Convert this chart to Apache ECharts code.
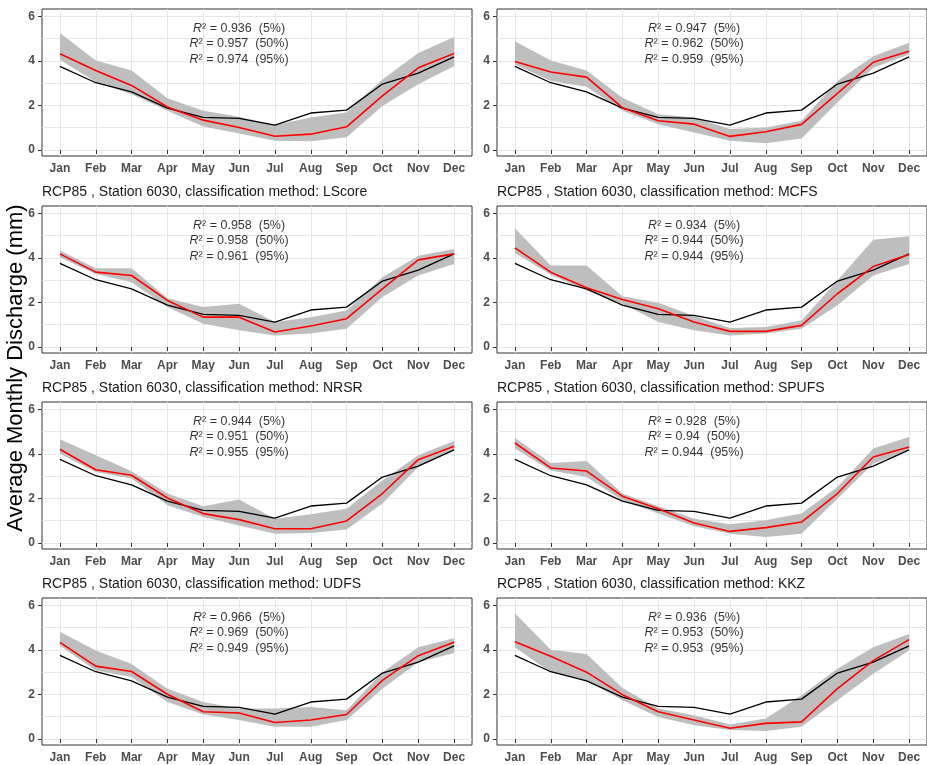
<!DOCTYPE html>
<html><head><meta charset="utf-8">
<script src="https://cdn.jsdelivr.net/npm/echarts@6/dist/echarts.min.js"></script>
<style>html,body{margin:0;padding:0;background:#fff}#c{width:927px;height:765px}</style>
</head><body><div id="c"></div>
<script>
const months = ['Jan','Feb','Mar','Apr','May','Jun','Jul','Aug','Sep','Oct','Nov','Dec'];
const observed = [3.75,3.02,2.61,1.88,1.46,1.42,1.12,1.66,1.79,2.96,3.45,4.18];
const titles = [null, null, 'LScore', 'MCFS', 'NRSR', 'SPUFS', 'UDFS', 'KKZ'];
const pctLabels = ['5%', '50%', '95%'];
const r2Pos = [5.45, 4.77, 4.08];
const yLabels = [0, 2, 4, 6];

const median1 = [4.32,3.57,2.90,1.93,1.34,1.01,0.62,0.71,1.04,2.43,3.69,4.33];
const lower1  = [4.05,3.05,2.50,1.76,1.06,0.74,0.42,0.39,0.57,1.98,2.95,3.76];
const upper1  = [5.25,4.02,3.57,2.32,1.76,1.49,1.12,1.46,1.68,3.17,4.36,5.07];
const r2_1 = ['0.936','0.957','0.974'];

const median2 = [3.97,3.50,3.27,1.90,1.31,1.16,0.61,0.82,1.15,2.54,3.94,4.43];
const lower2  = [3.84,3.10,2.84,1.76,1.16,0.79,0.42,0.30,0.52,2.13,3.69,4.29];
const upper2  = [4.88,4.02,3.57,2.35,1.61,1.46,0.94,1.01,1.31,3.10,4.21,4.81];
const r2_2 = ['0.947','0.962','0.959'];

const median3 = [4.18,3.36,3.21,2.09,1.34,1.34,0.67,0.94,1.27,2.61,3.91,4.18];
const lower3  = [4.03,3.28,2.91,1.79,1.04,0.75,0.52,0.60,0.82,2.24,3.21,3.73];
const upper3  = [4.33,3.54,3.54,2.19,1.79,1.94,1.12,1.34,1.64,3.13,4.10,4.40];
const r2_3 = ['0.958','0.958','0.961'];

const median4 = [4.45,3.36,2.66,2.13,1.72,1.12,0.70,0.70,0.97,2.39,3.61,4.15];
const lower4  = [4.22,3.24,2.54,1.94,1.12,0.75,0.52,0.60,0.82,1.87,3.21,3.73];
const upper4  = [5.33,3.66,3.66,2.28,1.99,1.39,0.85,0.90,1.19,2.99,4.82,4.97];
const r2_4 = ['0.934','0.944','0.944'];

const median5 = [4.21,3.29,3.04,2.02,1.32,1.05,0.64,0.64,0.99,2.22,3.74,4.34];
const lower5  = [4.01,3.19,2.89,1.69,1.17,0.79,0.42,0.45,0.60,1.77,3.41,4.16];
const upper5  = [4.66,3.94,3.22,2.22,1.65,1.95,1.09,1.29,1.54,2.81,3.94,4.58];
const r2_5 = ['0.944','0.951','0.955'];

const median6 = [4.49,3.37,3.23,2.10,1.54,0.90,0.52,0.69,0.94,2.22,3.86,4.31];
const lower6  = [4.24,3.26,2.96,1.92,1.32,0.75,0.42,0.27,0.42,1.99,3.56,4.16];
const upper6  = [4.72,3.59,3.68,2.22,1.65,1.09,0.84,1.02,1.32,2.51,4.24,4.76];
const r2_6 = ['0.928','0.94','0.944'];

const median7 = [4.34,3.27,3.03,2.01,1.22,1.17,0.74,0.85,1.10,2.63,3.74,4.34];
const lower7  = [4.19,3.08,2.78,1.66,1.10,0.85,0.55,0.55,0.85,2.26,3.45,3.86];
const upper7  = [4.81,3.97,3.37,2.26,1.66,1.37,1.37,1.44,1.29,3.00,4.12,4.52];
const r2_7 = ['0.966','0.969','0.949'];

const median8 = [4.37,3.71,3.00,1.99,1.22,0.85,0.48,0.70,0.77,2.26,3.52,4.46];
const lower8  = [4.12,3.00,2.63,1.74,0.99,0.62,0.40,0.36,0.55,1.74,2.93,3.97];
const upper8  = [5.65,4.01,3.82,2.29,1.37,1.07,0.65,0.92,1.96,3.15,4.12,4.71];
const r2_8 = ['0.936','0.953','0.953'];

const medians = [median1,median2,median3,median4,median5,median6,median7,median8];
const lowers = [lower1,lower2,lower3,lower4,lower5,lower6,lower7,lower8];
const uppers = [upper1,upper2,upper3,upper4,upper5,upper6,upper7,upper8];
const r2s = [r2_1,r2_2,r2_3,r2_4,r2_5,r2_6,r2_7,r2_8];

const FONT = '"Liberation Sans", Arial, sans-serif';
const colLeft = [42, 497];
const rowTop = [9, 206, 402, 598];
const W = 430, H = 147;
const YMIN = -0.27, YMAX = 6.33;
const GRIDC = '#e6e6e6';

const grids = [], xAxes = [], yAxes = [], series = [], titleList = [];
for (let i = 0; i < 8; i++) {
  const col = i % 2, row = Math.floor(i / 2);
  grids.push({left: colLeft[col], top: rowTop[row], width: W, height: H,
    show: true, borderColor: '#333', borderWidth: 1, backgroundColor: 'transparent'});
  xAxes.push({gridIndex: i, type: 'category', data: months, boundaryGap: true,
    axisLine: {show: false},
    axisTick: {show: true, alignWithLabel: true, length: 4, lineStyle: {color: '#333'}},
    axisLabel: {interval: 0, color: '#4d4d4d', fontWeight: 'bold', fontSize: 12, margin: 7, fontFamily: FONT},
    splitLine: {show: true, alignWithLabel: true, lineStyle: {color: GRIDC, width: 1}}});
  // labelled axis
  yAxes.push({gridIndex: i, type: 'value', min: YMIN, max: YMAX, position: 'left',
    axisLine: {show: false},
    axisTick: {show: true, length: 4, lineStyle: {color: '#333'}, customValues: yLabels},
    axisLabel: {customValues: yLabels, color: '#4d4d4d', fontWeight: 'bold', fontSize: 12, margin: 7, fontFamily: FONT},
    splitLine: {show: false}});
  // gridline axis
  yAxes.push({gridIndex: i, type: 'value', min: YMIN, max: YMAX, splitNumber: 7, position: 'left',
    axisLine: {show: false}, axisTick: {show: false}, axisLabel: {show: false},
    splitLine: {show: true, showMinLine: false, showMaxLine: false, lineStyle: {color: GRIDC, width: 1}}});
  const yi = 2 * i;
  const stack = 'band' + i;
  series.push({type: 'line', xAxisIndex: i, yAxisIndex: yi, stack: stack, data: lowers[i],
    symbol: 'none', lineStyle: {opacity: 0}, silent: true, z: 1});
  series.push({type: 'line', xAxisIndex: i, yAxisIndex: yi, stack: stack,
    data: uppers[i].map((u, k) => +(u - lowers[i][k]).toFixed(3)),
    symbol: 'none', lineStyle: {opacity: 0}, areaStyle: {color: '#bebebe', opacity: 1}, silent: true, z: 1});
  series.push({type: 'line', xAxisIndex: i, yAxisIndex: yi, data: observed, symbol: 'none',
    lineStyle: {color: '#000', width: 1.3}, z: 3});
  series.push({type: 'line', xAxisIndex: i, yAxisIndex: yi, data: medians[i], symbol: 'none',
    lineStyle: {color: '#ff0000', width: 1.6}, z: 4});
  series.push({type: 'scatter', xAxisIndex: i, yAxisIndex: yi, symbolSize: 0, silent: true, z: 5,
    data: r2Pos.map((p, k) => ['Jun', p]),
    label: {show: true, position: 'inside', color: '#000', fontFamily: FONT, fontSize: 12,
      formatter: (pr) => '{i|R}{n|² = ' + r2s[i][pr.dataIndex] + '  (' + pctLabels[pr.dataIndex] + ')}',
      rich: {i: {fontStyle: 'italic', fontSize: 12.5, color: '#000', fontFamily: FONT},
             n: {fontSize: 12.5, color: '#000', fontFamily: FONT}}}});
  if (titles[i]) {
    titleList.push({text: 'RCP85 , Station 6030, classification method: ' + titles[i],
      left: colLeft[col], top: rowTop[row] - 21, padding: 0,
      textStyle: {fontSize: 14, fontWeight: 'normal', color: '#1a1a1a', fontFamily: FONT}});
  }
}

const chart = echarts.init(document.getElementById('c'), null, {renderer: 'canvas'});
chart.setOption({
  animation: false,
  backgroundColor: '#fff',
  title: titleList,
  grid: grids, xAxis: xAxes, yAxis: yAxes, series: series,
  graphic: [{type: 'text', x: 16, y: 368, rotation: Math.PI / 2,
    style: {text: 'Average Monthly Discharge (mm)', fontSize: 22, fontFamily: FONT, fill: '#000',
      align: 'center', verticalAlign: 'middle'}}]
});
</script></body></html>
